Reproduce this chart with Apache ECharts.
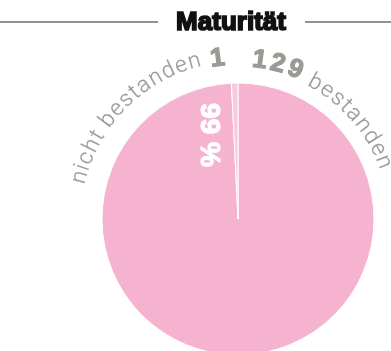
<!DOCTYPE html>
<html>
<head>
<meta charset="utf-8">
<script src="https://cdn.jsdelivr.net/npm/echarts@6/dist/echarts.min.js"></script>
<style>
  html, body { margin: 0; padding: 0; background: #fff; }
  #chart { width: 391px; height: 351px; }
</style>
</head>
<body>
<div id="chart"></div>
<script>
// Exam results
const titleText = 'Maturität';
const categories = ['bestanden', 'nicht bestanden'];
const values = [129, 1];
const sliceColors = ['#f5b3cf', '#f8cadd'];

// Layout
const W = 391;
const CX = 238, CY = 219, R = 136;
const GREY = '#9a9a95';
const LIGHT_FONT = { family: 'Roboto, "Liberation Sans", sans-serif', weight: 300, size: 22.5, spacing: 0.9, stroke: 0.2 };
const BOLD_FONT = { family: '"Liberation Sans", Arial, sans-serif', weight: 'bold', size: 26, spacing: 2.5, stroke: 1.2 };

const chart = echarts.init(document.getElementById('chart'), null, { renderer: 'canvas' });

const measureCtx = document.createElement('canvas').getContext('2d');
function fontStr(f) { return f.weight + ' ' + f.size + 'px ' + f.family; }
function charWidth(ch, f) { measureCtx.font = fontStr(f); return measureCtx.measureText(ch).width + f.spacing; }

// Place text parts along circles around the pie centre, reading clockwise,
// glyph tops facing outward. Each part carries its own radius (bottom of the text box).
// anchorDeg: angle from 12 o'clock (clockwise), anchor 'start' or 'end'.
function arcText(parts, anchorDeg, anchor) {
  const glyphs = [];
  let totalDeg = 0;
  parts.forEach(p => {
    for (const ch of p.text) {
      const dDeg = charWidth(ch, p.font) / p.r * 180 / Math.PI;
      glyphs.push({ ch, dDeg, font: p.font, r: p.r });
      totalDeg += dDeg;
    }
  });
  let a = anchor === 'end' ? anchorDeg - totalDeg : anchorDeg;
  const els = [];
  glyphs.forEach(g => {
    const mid = (a + g.dDeg / 2) * Math.PI / 180;
    a += g.dDeg;
    if (g.ch === ' ') return;
    els.push({
      type: 'text',
      z: 10,
      x: CX + g.r * Math.sin(mid),
      y: CY - g.r * Math.cos(mid),
      rotation: -mid,
      silent: true,
      style: {
        text: g.ch,
        fill: GREY,
        stroke: g.font.stroke ? GREY : null,
        lineWidth: g.font.stroke,
        font: fontStr(g.font),
        align: 'center',
        verticalAlign: 'bottom'
      }
    });
  });
  return els;
}

const total = values.reduce((s, v) => s + v, 0);
const passPct = Math.round(values[0] / total * 100) + ' %';

const graphics = [
  // title with rules on both sides
  { type: 'line', z: 10, silent: true, shape: { x1: 0, y1: 22, x2: 158, y2: 22 }, style: { stroke: '#6e6e6e', lineWidth: 1.5 } },
  { type: 'line', z: 10, silent: true, shape: { x1: 305, y1: 22, x2: W, y2: 22 }, style: { stroke: '#6e6e6e', lineWidth: 1.5 } },
  { type: 'text', z: 10, x: 231, y: 23, silent: true,
    style: { text: titleText, fill: '#111', stroke: '#111', lineWidth: 1.7,
             font: 'bold 26px "Liberation Sans", Arial, sans-serif', align: 'center', verticalAlign: 'middle' } },
  // percentage of passed exams, written along the radius
  { type: 'text', z: 10, x: 209, y: 135, rotation: -Math.PI / 2, silent: true,
    style: { text: passPct, fill: '#fff', stroke: '#fff', lineWidth: 1.2,
             font: 'bold 28px "Liberation Sans", Arial, sans-serif', align: 'center', verticalAlign: 'middle' } }
]
  .concat(arcText([
    { text: categories[1] + ' ', font: LIGHT_FONT, r: 151.5 },
    { text: String(values[1]), font: BOLD_FONT, r: 148.5 }
  ], -4, 'end'))
  .concat(arcText([
    { text: String(values[0]), font: BOLD_FONT, r: 147 },
    { text: ' ' + categories[0], font: LIGHT_FONT, r: 144.5 }
  ], 4.5, 'start'));

chart.setOption({
  animation: false,
  backgroundColor: '#fff',
  series: [{
    type: 'pie',
    z: 2,
    center: [CX, CY],
    radius: [0, R],
    startAngle: 90,
    clockwise: true,
    silent: true,
    label: { show: false },
    labelLine: { show: false },
    itemStyle: { borderColor: '#fff', borderWidth: 1 },
    data: categories.map((c, i) => ({ name: c, value: values[i], itemStyle: { color: sliceColors[i] } }))
  }],
  graphic: graphics
});
</script>
</body>
</html>
